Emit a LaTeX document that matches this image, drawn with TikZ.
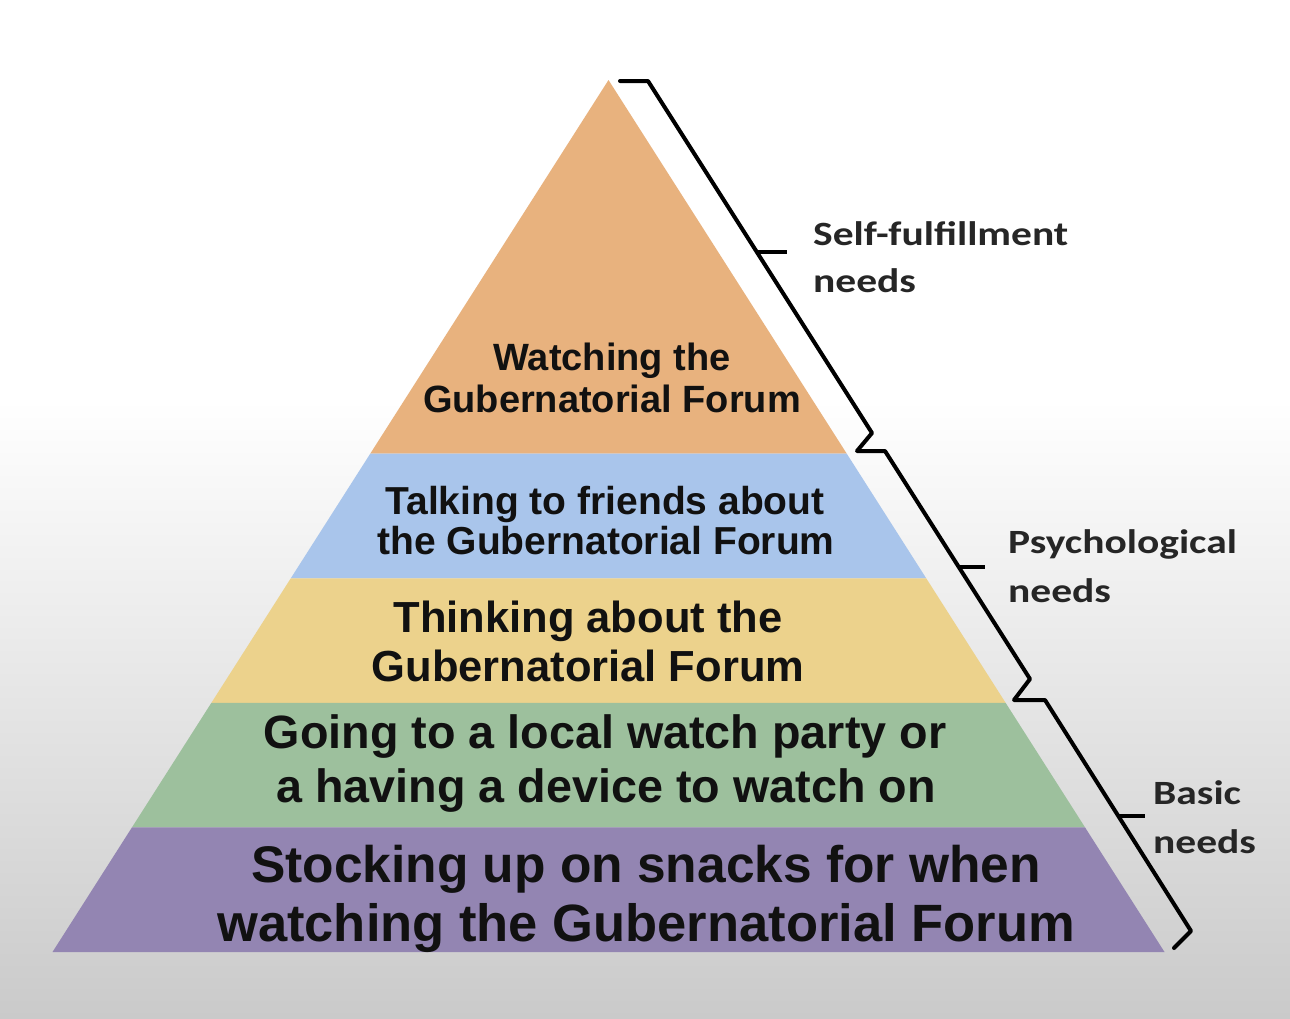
\documentclass[tikz,border=0pt]{standalone}
\usepackage{fontspec}
\setmainfont{Liberation Sans}
\newfontfamily\labfont{Carlito}[FakeStretch=1.22]
\usetikzlibrary{calc}
\definecolor{cOrange}{RGB}{232,178,126}
\definecolor{cBlue}{RGB}{169,197,235}
\definecolor{cYellow}{RGB}{236,210,140}
\definecolor{cGreen}{RGB}{157,192,157}
\definecolor{cPurple}{RGB}{147,133,178}
\definecolor{bgGray}{RGB}{202,202,202}
\definecolor{labGray}{RGB}{38,38,38}
\definecolor{txtBlack}{RGB}{17,17,17}
\begin{document}
\begin{tikzpicture}[x=1pt,y=-1pt,
  bandtext/.style={anchor=base,inner sep=0pt,text=txtBlack},
  fA/.style={font=\fontsize{38}{44}\selectfont\bfseries},
  fB/.style={font=\fontsize{39}{44}\selectfont\bfseries},
  fC/.style={font=\fontsize{43.5}{50}\selectfont\bfseries},
  fD/.style={font=\fontsize{46.7}{54}\selectfont\bfseries},
  fE/.style={font=\fontsize{51.5}{60}\selectfont\bfseries},
  fEE/.style={font=\fontsize{52.5}{60}\selectfont\bfseries},
  labtext/.style={anchor=base west,inner sep=0pt,text=labGray,font=\labfont\bfseries\fontsize{34}{40}\selectfont},
  bracepath/.style={draw=black,line width=4pt,line join=round,line cap=round},
  ticklines/.style={draw=black,line width=3.4pt}]
\useasboundingbox (0,0) rectangle (1290,1018);
% background
\fill[white] (0,0) rectangle (1290,1018);
\shade[top color=white,bottom color=bgGray] (0,400) rectangle (1290,1018);
% pyramid geometry
\coordinate (A) at (608.5,80);
\coordinate (BL) at (52.5,952);
\coordinate (BR) at (1164.5,952);
\coordinate (L3) at ($(A)!0.428571!(BL)$);
\coordinate (R3) at ($(A)!0.428571!(BR)$);
\coordinate (L4) at ($(A)!0.571429!(BL)$);
\coordinate (R4) at ($(A)!0.571429!(BR)$);
\coordinate (L5) at ($(A)!0.714286!(BL)$);
\coordinate (R5) at ($(A)!0.714286!(BR)$);
\coordinate (L6) at ($(A)!0.857143!(BL)$);
\coordinate (R6) at ($(A)!0.857143!(BR)$);
\fill[cOrange] (A) -- (R3) -- (L3) -- cycle;
\fill[cBlue] (L3) -- (R3) -- (R4) -- (L4) -- cycle;
\fill[cYellow] (L4) -- (R4) -- (R5) -- (L5) -- cycle;
\fill[cGreen] (L5) -- (R5) -- (R6) -- (L6) -- cycle;
\fill[cPurple] (L6) -- (R6) -- (BR) -- (BL) -- cycle;
% band texts
\node[bandtext,fA] (t1a) at (612,370) {Watching the};
\node[bandtext,fA] (t1b) at (612,412) {Gubernatorial Forum};
\node[bandtext,fB] (t2a) at (605,514) {Talking to friends about};
\node[bandtext,fB] (t2b) at (606,554) {the Gubernatorial Forum};
\node[bandtext,fC] (t3a) at (588,632) {Thinking about the};
\node[bandtext,fC] (t3b) at (588,681) {Gubernatorial Forum};
\node[bandtext,fD] (t4a) at (605,748) {Going to a local watch party or};
\node[bandtext,fD] (t4b) at (606,802) {a having a device to watch on};
\node[bandtext,fE] (t5a) at (646,882) {Stocking up on snacks for when};
\node[bandtext,fEE] (t5b) at (646,941) {watching the Gubernatorial Forum};
% bracket
\coordinate (p1) at (620,81);
\coordinate (p2) at (648,81);
\coordinate (p3) at (872,433);
\coordinate (p4) at (857,451);
\coordinate (p5) at (885,451);
\coordinate (p6) at (1030,679);
\coordinate (p7) at (1014,700);
\coordinate (p8) at (1045,700);
\coordinate (p9) at (1191,931);
\coordinate (p10) at (1174,948);
\draw[bracepath] (p1) -- (p2) -- (p3) -- (p4) -- (p5) -- (p6) -- (p7) -- (p8) -- (p9) -- (p10);
% ticks
\coordinate (k1a) at (757,252);
\coordinate (k1b) at (787,252);
\coordinate (k2a) at (959,567);
\coordinate (k2b) at (985,567);
\coordinate (k3a) at (1119,816);
\coordinate (k3b) at (1145,816);
\draw[ticklines] (k1a) -- (k1b);
\draw[ticklines] (k2a) -- (k2b);
\draw[ticklines] (k3a) -- (k3b);
% labels
\node[labtext] (l1a) at (813,245) {Self-fulfillment};
\node[labtext] (l1b) at (813,292) {needs};
\node[labtext] (l2a) at (1008,553) {Psychological};
\node[labtext] (l2b) at (1008,602) {needs};
\node[labtext] (l3a) at (1153,804) {Basic};
\node[labtext] (l3b) at (1153,853) {needs};
\end{tikzpicture}
\end{document}
